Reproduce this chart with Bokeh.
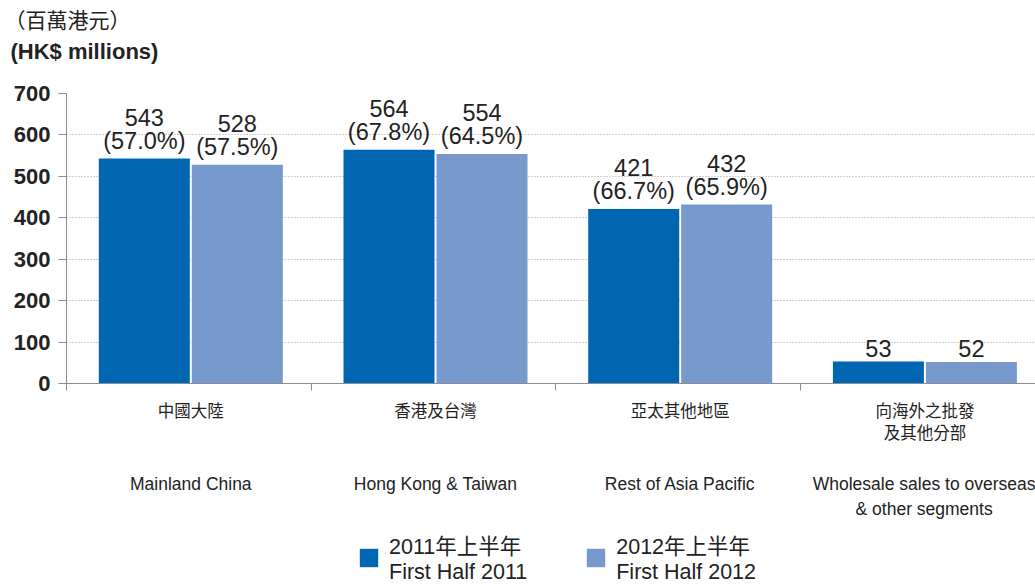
from bokeh.plotting import figure
from bokeh.models import (Range1d, FixedTicker, Legend, LegendItem, ColumnDataSource,
                          Title, LinearAxis)
from bokeh.layouts import column
from bokeh.core.properties import value
from bokeh.embed import file_html
from bokeh.resources import INLINE

# ---- data ----
categories_zh = ["中國大陸", "香港及台灣", "亞太其他地區", "向海外之批發\n及其他分部"]
categories_en = ["Mainland China", "Hong Kong & Taiwan", "Rest of Asia Pacific",
                 "Wholesale sales to overseas\n& other segments"]
values_2011 = [543, 564, 421, 53]
values_2012 = [528, 554, 432, 52]
pct_2011 = ["57.0%", "67.8%", "66.7%", ""]
pct_2012 = ["57.5%", "64.5%", "65.9%", ""]
series_zh = ["2011年上半年", "2012年上半年"]
series_en = ["First Half 2011", "First Half 2012"]
y_ticks = [0, 100, 200, 300, 400, 500, 600, 700]
title_zh = "（百萬港元）"
title_en = "(HK$ millions)"

C1 = "#0066b2"
C2 = "#7799cc"
TXT = "#222222"
AX = "#8c8c8c"
LATIN = "Liberation Sans"
CJK = "Noto Sans CJK TC"
MIXED = "Liberation Sans, Noto Sans CJK TC"

n = len(categories_zh)
centers = [i + 0.508 for i in range(n)]
offset = 0.19
bw = 0.372

def lab(v, pct):
    return f"{v}\n({pct})" if pct else f"{v}"

src1 = ColumnDataSource(dict(x=[c - offset for c in centers], top=values_2011,
                             label=[lab(v, p) for v, p in zip(values_2011, pct_2011)]))
src2 = ColumnDataSource(dict(x=[c + offset for c in centers], top=values_2012,
                             label=[lab(v, p) for v, p in zip(values_2012, pct_2012)]))

W, H_MAIN, H_LEG = 1035, 530, 55
p = figure(width=W, height=H_MAIN, output_backend="svg", toolbar_location=None,
           x_range=Range1d(0, 3.96), y_range=Range1d(0, 700),
           min_border_left=66, min_border_right=0, min_border_top=93,
           min_border_bottom=H_MAIN - 383)
p.outline_line_color = None

p.vbar(x="x", top="top", width=bw, source=src1, fill_color=C1, line_color=None)
p.vbar(x="x", top="top", width=bw, source=src2, fill_color=C2, line_color=None)

for s in (src1, src2):
    p.text(x="x", y="top", text="label", source=s, text_align="center",
           text_baseline="bottom", y_offset=-5, text_font=value(LATIN),
           text_font_size="23.5px", text_color=TXT, text_line_height=0.88)

# x axis (Chinese labels), minor ticks at category boundaries
p.xaxis.ticker = FixedTicker(ticks=centers, minor_ticks=[0, 1, 2, 3])
p.xaxis.major_label_overrides = {c: t for c, t in zip(centers, categories_zh)}
p.xaxis.major_tick_out = 0
p.xaxis.major_tick_in = 0
p.xaxis.minor_tick_out = 7
p.xaxis.minor_tick_in = 0
p.xaxis.axis_line_color = AX
p.xaxis.minor_tick_line_color = AX
p.xaxis.major_label_text_font = CJK
p.xaxis.major_label_text_font_size = "16.5px"
p.xaxis.major_label_text_color = TXT
p.xaxis.major_label_text_line_height = 0.92
p.xaxis.major_label_standoff = 7

# second axis with English labels
en_axis = LinearAxis(ticker=FixedTicker(ticks=centers, minor_ticks=[]),
                     major_label_overrides={c: t for c, t in zip(centers, categories_en)},
                     axis_line_color=None, major_tick_line_color=None,
                     minor_tick_line_color=None, major_label_text_font=LATIN,
                     major_label_text_font_size="17.5px", major_label_text_color=TXT,
                     major_label_text_line_height=1.25, major_label_standoff=21)
p.add_layout(en_axis, "below")

p.yaxis.ticker = FixedTicker(ticks=y_ticks)
p.yaxis.major_tick_out = 8
p.yaxis.major_tick_in = 0
p.yaxis.minor_tick_line_color = None
p.yaxis.axis_line_color = AX
p.yaxis.major_tick_line_color = AX
p.yaxis.major_label_text_font = LATIN
p.yaxis.major_label_text_font_style = "bold"
p.yaxis.major_label_text_font_size = "22px"
p.yaxis.major_label_text_color = TXT
p.yaxis.major_label_standoff = 8

p.xgrid.visible = False
p.ygrid.grid_line_color = "#a0a0a0"
p.ygrid.grid_line_dash = "1 2"
p.ygrid.grid_line_width = 1

# titles (above panel, stacked outward)
p.add_layout(Title(text=title_en, align="left", offset=-56, text_font=LATIN,
                   text_font_style="bold", text_font_size="22px", text_color=TXT,
                   standoff=59), "above")
p.add_layout(Title(text=title_zh, align="left", offset=-62, text_font=MIXED,
                   text_font_style="normal", text_font_size="21px", text_color=TXT,
                   standoff=-49), "above")

# legend strip
leg = figure(width=W, height=H_LEG, output_backend="svg", toolbar_location=None,
             x_range=Range1d(0, 1), y_range=Range1d(0, 1),
             x_axis_type=None, y_axis_type=None, min_border=0)
leg.outline_line_color = None
leg.grid.visible = False
e = ColumnDataSource(dict(x=[float("nan")], top=[float("nan")]))
l1 = leg.vbar(x="x", top="top", width=0.1, source=e, fill_color=C1, line_color=None)
l2 = leg.vbar(x="x", top="top", width=0.1, source=e, fill_color=C2, line_color=None)
legend = Legend(items=[LegendItem(label=f"{series_zh[0]}\n{series_en[0]}", renderers=[l1]),
                       LegendItem(label=f"{series_zh[1]}\n{series_en[1]}", renderers=[l2])],
                location=(291, 0), orientation="horizontal",
                glyph_width=23, glyph_height=23, label_standoff=9, spacing=57,
                padding=0, margin=0, border_line_color=None, background_fill_alpha=0,
                label_text_font=MIXED, label_text_font_size="21.5px",
                label_text_color=TXT, label_text_line_height=0.75)
leg.add_layout(legend, "center")

layout = column(p, leg, spacing=0)
open("out.html", "w").write(file_html(layout, INLINE))
